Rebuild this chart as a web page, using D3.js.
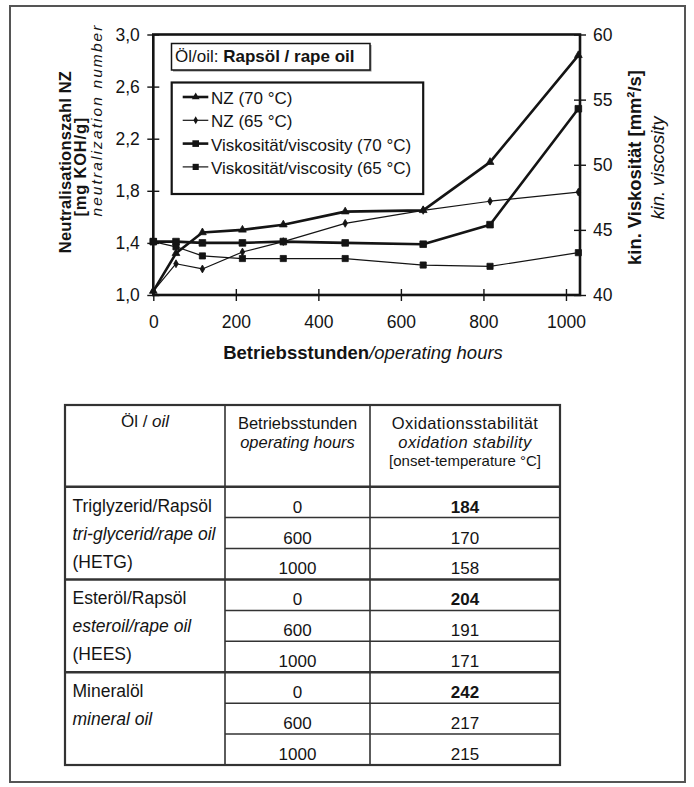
<!DOCTYPE html>
<html><head><meta charset="utf-8">
<script src="https://cdn.jsdelivr.net/npm/d3@7"></script>
<style>
body{margin:0;background:#fff;}
svg text{font-family:"Liberation Sans",Arial,Helvetica,sans-serif;fill:#141414;}
</style></head><body>
<svg id="chart" width="694" height="787"></svg>
<script>
// ---------- chart data ----------
const hours  = [0, 55, 119, 216, 315, 465, 654, 816, 1030];
const nz70   = [1.03, 1.32, 1.48, 1.50, 1.54, 1.64, 1.65, 2.02, 2.84];
const nz65   = [1.03, 1.24, 1.20, 1.33, 1.41, 1.55, 1.65, 1.72, 1.79];
const visc70 = [44.1, 44.1, 44.0, 44.0, 44.1, 44.0, 43.9, 45.4, 54.3];
const visc65 = [44.1, 43.7, 43.0, 42.8, 42.8, 42.8, 42.3, 42.2, 43.25];
const seriesNames = ["NZ (70 °C)", "NZ (65 °C)", "Viskosität/viscosity (70 °C)", "Viskosität/viscosity (65 °C)"];
const hourTicks = [0, 200, 400, 600, 800, 1000];
const nzTicks   = [1.0, 1.4, 1.8, 2.2, 2.6, 3.0];
const viscTicks = [40, 45, 50, 55, 60];

// ---------- table data ----------
const headOil   = ["Öl / ", "oil"];
const headHours = ["Betriebsstunden", "operating hours"];
const headOx    = ["Oxidationsstabilität", "oxidation stability", "[onset-temperature °C]"];
const oilDe   = ["Triglyzerid/Rapsöl", "Esteröl/Rapsöl", "Mineralöl"];
const oilEn   = ["tri-glycerid/rape oil", "esteroil/rape oil", "mineral oil"];
const oilCode = ["(HETG)", "(HEES)", ""];
const testHours = [0, 600, 1000];
const onsetHETG    = [184, 170, 158];
const onsetHEES    = [204, 191, 171];
const onsetMineral = [242, 217, 215];

const svg = d3.select("#chart");
const ink = "#141414";

// outer frame
svg.append("rect").attr("x", 10).attr("y", 6).attr("width", 675).attr("height", 776)
  .attr("fill", "none").attr("stroke", "#555").attr("stroke-width", 2);

// ---------- scales ----------
const pl = 153.3, pr = 580, pt = 34.5, pb = 295;
const x  = d3.scaleLinear().domain([0, 1034]).range([pl, pr]);
const yL = d3.scaleLinear().domain([1.0, 3.0]).range([pb, pt]);
const yR = d3.scaleLinear().domain([40, 60]).range([pb, pt]);
const deFmt = d3.formatLocale({decimal: ",", thousands: ".", grouping: [3], currency: ["", "€"]}).format(".1f");

const g = svg.append("g");

// axes
const axB = g.append("g").attr("transform", `translate(0,${pb})`)
  .call(d3.axisBottom(x).tickValues(hourTicks).tickFormat(d3.format("d")).tickSizeInner(6).tickSizeOuter(0).tickPadding(14.5));
const axL = g.append("g").attr("transform", `translate(${pl},0)`)
  .call(d3.axisLeft(yL).tickValues(nzTicks).tickFormat(deFmt).tickSizeInner(6).tickSizeOuter(0).tickPadding(7.5));
const axR = g.append("g").attr("transform", `translate(${pr},0)`)
  .call(d3.axisRight(yR).tickValues(viscTicks).tickFormat(d3.format("d")).tickSizeInner(6).tickSizeOuter(0).tickPadding(7));
[axB, axL, axR].forEach(a => {
  a.select(".domain").remove();
  a.selectAll(".tick line").attr("stroke", ink).attr("stroke-width", 1.4);
  a.selectAll(".tick text").attr("fill", ink).style("font-size", "17.5px")
    .style("font-family", '"Liberation Sans",Arial,sans-serif');
});
axB.selectAll(".tick line").attr("y1", -6);
axL.selectAll(".tick line").attr("x1", 6);
axR.selectAll(".tick line").attr("x1", -6);

// series
const series = [
  {name: seriesNames[0], vals: nz70,   y: yL, w: 2.6, sym: d3.symbolTriangle, size: 26},
  {name: seriesNames[1], vals: nz65,   y: yL, w: 1.2, sym: d3.symbolDiamond,  size: 18},
  {name: seriesNames[2], vals: visc70, y: yR, w: 2.6, sym: d3.symbolSquare,   size: 44},
  {name: seriesNames[3], vals: visc65, y: yR, w: 1.2, sym: d3.symbolSquare,   size: 38}
];
series.forEach(s => {
  const pts = hours.map((h, i) => [x(h), s.y(s.vals[i])]);
  g.append("path").attr("d", d3.line()(pts)).attr("fill", "none")
    .attr("stroke", ink).attr("stroke-width", s.w).attr("stroke-linejoin", "round");
  g.selectAll(null).data(pts).enter().append("path")
    .attr("transform", d => `translate(${d[0]},${d[1]})`)
    .attr("d", d3.symbol().type(s.sym).size(s.size)).attr("fill", ink)
    .attr("stroke", ink).attr("stroke-width", 0.8);
});

// plot frame
g.append("rect").attr("x", pl).attr("y", pt).attr("width", pr - pl).attr("height", pb - pt)
  .attr("fill", "none").attr("stroke", ink).attr("stroke-width", 2.6);

// title box
g.append("rect").attr("x", 173).attr("y", 45).attr("width", 198.5).attr("height", 26.5)
  .attr("fill", "#888").attr("stroke", "none");
g.append("rect").attr("x", 171.5).attr("y", 43.5).attr("width", 198.5).attr("height", 26.5)
  .attr("fill", "#fff").attr("stroke", ink).attr("stroke-width", 1.5);
const tt = g.append("text").attr("x", 175).attr("y", 62).style("font-size", "17px");
tt.append("tspan").text("Öl/oil: ");
tt.append("tspan").attr("font-weight", "bold").text("Rapsöl / rape oil");

// legend
g.append("rect").attr("x", 171.7).attr("y", 82.5).attr("width", 251.5).attr("height", 111.5)
  .attr("fill", "#fff").attr("stroke", ink).attr("stroke-width", 2.2);
series.forEach((s, i) => {
  const by = 104 + i * 23.3, ly = by - 7;
  g.append("line").attr("x1", 182.7).attr("x2", 208.3).attr("y1", ly).attr("y2", ly)
    .attr("stroke", ink).attr("stroke-width", s.w);
  g.append("path").attr("transform", `translate(195.7,${ly})`)
    .attr("d", d3.symbol().type(s.sym).size(s.size)).attr("fill", ink);
  g.append("text").attr("x", 211).attr("y", by).style("font-size", "17px").text(s.name);
});

// axis titles
const xt = g.append("text").attr("x", 363).attr("y", 359).attr("text-anchor", "middle").style("font-size", "18.5px");
xt.append("tspan").attr("font-weight", "bold").text("Betriebsstunden");
xt.append("tspan").attr("font-style", "italic").text("/operating hours");

function vtext(tx, ty, txt, size, weight, style, ls) {
  g.append("text").attr("transform", `translate(${tx},${ty}) rotate(-90)`)
    .attr("text-anchor", "middle").style("font-size", size + "px")
    .style("letter-spacing", (ls || 0) + "px")
    .attr("font-weight", weight).attr("font-style", style).text(txt);
}
vtext(70.5, 162, "Neutralisationszahl NZ", 16.5, "bold", "normal", 0.2);
vtext(85.5, 166.7, "[mg KOH/g]", 16.5, "bold", "normal", 0.8);
vtext(101.5, 120, "neutralization number", 15.5, "normal", "italic", 2.1);
vtext(640.5, 167.5, "kin. Viskosität [mm²/s]", 18.4, "bold", "normal", 0);
vtext(664, 168, "kin. viscosity", 18.4, "normal", "italic", 0);

// ---------- table ----------
const cols = [65, 225, 370, 560];
const tTop = 405, hBot = 486.7;
const rowY = d3.scaleLinear().domain([0, 9]).range([hBot, 765]);
const T = svg.append("g");
const tStroke = "#333";
const allOnset = [onsetHETG, onsetHEES, onsetMineral];

// inner row lines (cols 2-3)
d3.range(1, 9).filter(i => i % 3 !== 0).forEach(i => {
  T.append("line").attr("x1", cols[1]).attr("x2", cols[3]).attr("y1", rowY(i)).attr("y2", rowY(i))
    .attr("stroke", tStroke).attr("stroke-width", 1.5);
});
// group lines
[0, 3, 6].forEach(i => {
  T.append("line").attr("x1", cols[0]).attr("x2", cols[3]).attr("y1", rowY(i)).attr("y2", rowY(i))
    .attr("stroke", tStroke).attr("stroke-width", 2.4);
});
// column lines
[cols[1], cols[2]].forEach(cx => {
  T.append("line").attr("x1", cx).attr("x2", cx).attr("y1", tTop).attr("y2", rowY(9))
    .attr("stroke", tStroke).attr("stroke-width", 1.6);
});
T.append("rect").attr("x", cols[0]).attr("y", tTop).attr("width", cols[3] - cols[0]).attr("height", rowY(9) - tTop)
  .attr("fill", "none").attr("stroke", tStroke).attr("stroke-width", 2.2);

// header
const c1 = (cols[0] + cols[1]) / 2, c2 = (cols[1] + cols[2]) / 2, c3 = (cols[2] + cols[3]) / 2;
const h1 = T.append("text").attr("x", c1).attr("y", 427).attr("text-anchor", "middle").style("font-size", "17px");
h1.append("tspan").text(headOil[0]);
h1.append("tspan").attr("font-style", "italic").text(headOil[1]);
T.append("text").attr("x", c2).attr("y", 429).attr("text-anchor", "middle").style("font-size", "16.5px").text(headHours[0]);
T.append("text").attr("x", c2).attr("y", 447.5).attr("text-anchor", "middle").style("font-size", "16.5px").attr("font-style", "italic").text(headHours[1]);
T.append("text").attr("x", c3).attr("y", 429).attr("text-anchor", "middle").style("font-size", "16.5px").style("letter-spacing", "0.4px").text(headOx[0]);
T.append("text").attr("x", c3).attr("y", 447.5).attr("text-anchor", "middle").style("font-size", "16.5px").style("letter-spacing", "0.4px").attr("font-style", "italic").text(headOx[1]);
T.append("text").attr("x", c3).attr("y", 466).attr("text-anchor", "middle").style("font-size", "15px").text(headOx[2]);

// body
oilDe.forEach((name, gi) => {
  const top = rowY(gi * 3);
  [oilDe[gi], oilEn[gi], oilCode[gi]].forEach((t, li) => {
    if (!t) return;
    T.append("text").attr("x", 72.5).attr("y", top + 25 + li * 28).style("font-size", "17.5px")
      .attr("font-style", li === 1 ? "italic" : "normal").text(t);
  });
  testHours.forEach((h, ri) => {
    const yb = rowY(gi * 3 + ri + 1) - 5;
    T.append("text").attr("x", c2).attr("y", yb).attr("text-anchor", "middle").style("font-size", "17px").text(h);
    T.append("text").attr("x", c3).attr("y", yb).attr("text-anchor", "middle").style("font-size", "17px")
      .attr("font-weight", ri === 0 ? "bold" : "normal").text(allOnset[gi][ri]);
  });
});
</script>
</body></html>
